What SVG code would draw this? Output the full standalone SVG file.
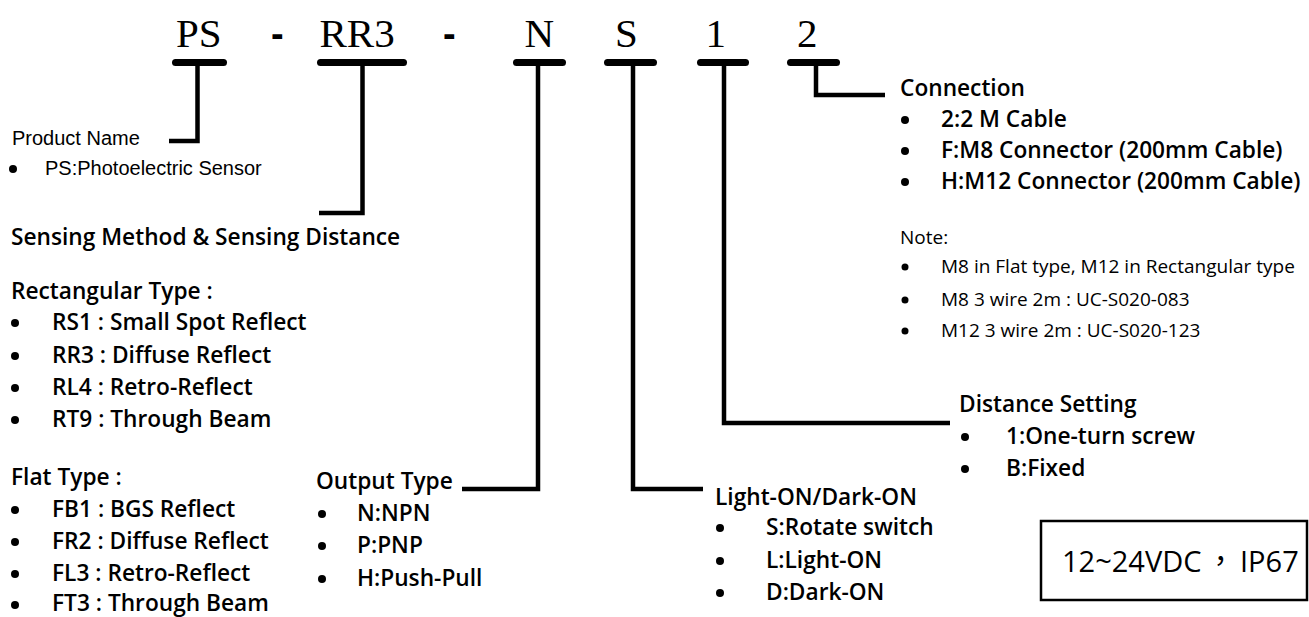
<svg xmlns="http://www.w3.org/2000/svg" width="1309" height="617" viewBox="0 0 1309 617">
<style>
.code{font-family:"Liberation Serif","Times New Roman",serif;font-size:41px;fill:#000}
.dash{font-family:"Liberation Sans",Arial,sans-serif;font-weight:bold;font-size:38px;fill:#000}
.bar{stroke:#000;stroke-width:7;stroke-linecap:round;fill:none}
.conn{stroke:#000;stroke-width:4.5;fill:none;stroke-linejoin:miter;stroke-linecap:butt}
.h{font-family:"Open Sans","Noto Sans",sans-serif;font-weight:600;font-size:22.7px;fill:#000}
.t{font-family:"Open Sans","Noto Sans",sans-serif;font-weight:600;font-size:22.7px;fill:#000}
.n{font-family:"Open Sans","Noto Sans",sans-serif;font-weight:400;font-size:19px;fill:#000}
.a{font-family:"Liberation Sans",Arial,sans-serif;font-size:20px;fill:#000}
.box{font-family:"Open Sans","Noto Sans CJK TC",sans-serif;font-size:29px;fill:#000}
</style>
<g id="code">
<text class="code" x="176" y="47">PS</text>
<text class="dash" x="271" y="47">-</text>
<text class="code" x="319.5" y="47">RR3</text>
<text class="dash" x="443" y="47">-</text>
<text class="code" x="524.5" y="47">N</text>
<text class="code" x="615" y="47">S</text>
<text class="code" x="705.5" y="47">1</text>
<text class="code" x="797" y="47">2</text>
<line class="bar" x1="175.5" y1="62.5" x2="223.5" y2="62.5"/>
<line class="bar" x1="320.5" y1="62.5" x2="403.5" y2="62.5"/>
<line class="bar" x1="516.5" y1="62.5" x2="562.5" y2="62.5"/>
<line class="bar" x1="607.5" y1="62.5" x2="653.5" y2="62.5"/>
<line class="bar" x1="700.5" y1="62.5" x2="745.5" y2="62.5"/>
<line class="bar" x1="790.5" y1="62.5" x2="836.5" y2="62.5"/>
</g>
<g id="connectors">
<path class="conn" d="M197.5 62 V141 H169"/>
<path class="conn" d="M362.5 62 V213 H319"/>
<path class="conn" d="M538 62 V489 H462"/>
<path class="conn" d="M633 62 V489 H703"/>
<path class="conn" d="M724 62 V423 H950"/>
<path class="conn" d="M816 62 V95 H885"/>
</g>
<g id="product-name">
<text class="a" x="12" y="145">Product Name</text>
<circle cx="13" cy="169" r="4"/>
<text class="a" x="45" y="175">PS:Photoelectric Sensor</text>
</g>
<g id="sensing-method">
<text class="h" x="11" y="245">Sensing Method &amp; Sensing Distance</text>
<text class="h" x="11" y="299">Rectangular Type :</text>
<circle cx="15" cy="323" r="4"/><text class="t" x="52" y="330">RS1 : Small Spot Reflect</text>
<circle cx="15" cy="356" r="4"/><text class="t" x="52" y="363">RR3 : Diffuse Reflect</text>
<circle cx="15" cy="388" r="4"/><text class="t" x="52" y="395">RL4 : Retro-Reflect</text>
<circle cx="15" cy="420" r="4"/><text class="t" x="52" y="427">RT9 : Through Beam</text>
<text class="h" x="11" y="485">Flat Type :</text>
<circle cx="15" cy="510" r="4"/><text class="t" x="52" y="517">FB1 : BGS Reflect</text>
<circle cx="15" cy="542" r="4"/><text class="t" x="52" y="549">FR2 : Diffuse Reflect</text>
<circle cx="15" cy="574" r="4"/><text class="t" x="52" y="581">FL3 : Retro-Reflect</text>
<circle cx="15" cy="605" r="4"/><text class="t" x="52" y="611">FT3 : Through Beam</text>
</g>
<g id="output-type">
<text class="h" x="316" y="489">Output Type</text>
<circle cx="322" cy="514" r="4"/><text class="t" x="357" y="521">N:NPN</text>
<circle cx="322" cy="546" r="4"/><text class="t" x="357" y="553">P:PNP</text>
<circle cx="322" cy="579" r="4"/><text class="t" x="357" y="586">H:Push-Pull</text>
</g>
<g id="light-dark">
<text class="h" x="715" y="505">Light-ON/Dark-ON</text>
<circle cx="720" cy="528" r="4"/><text class="t" x="766" y="535">S:Rotate switch</text>
<circle cx="720" cy="561" r="4"/><text class="t" x="766" y="568">L:Light-ON</text>
<circle cx="720" cy="593" r="4"/><text class="t" x="766" y="600">D:Dark-ON</text>
</g>
<g id="distance-setting">
<text class="h" x="959" y="412">Distance Setting</text>
<circle cx="965" cy="437" r="4"/><text class="t" x="1006" y="444">1:One-turn screw</text>
<circle cx="965" cy="469" r="4"/><text class="t" x="1006" y="476">B:Fixed</text>
</g>
<g id="connection">
<text class="h" x="900" y="96">Connection</text>
<circle cx="905" cy="120" r="4"/><text class="t" x="941" y="127">2:2 M Cable</text>
<circle cx="905" cy="151" r="4"/><text class="t" x="941" y="158">F:M8 Connector (200mm Cable)</text>
<circle cx="905" cy="182" r="4"/><text class="t" x="941" y="189">H:M12 Connector (200mm Cable)</text>
<text class="n" x="900" y="244">Note:</text>
<circle cx="905" cy="267" r="3.5"/><text class="n" x="941" y="273">M8 in Flat type, M12 in Rectangular type</text>
<circle cx="905" cy="300" r="3.5"/><text class="n" x="941" y="306">M8 3 wire 2m : UC-S020-083</text>
<circle cx="905" cy="331" r="3.5"/><text class="n" x="941" y="337">M12 3 wire 2m : UC-S020-123</text>
</g>
<g id="power-box">
<rect x="1041" y="521" width="266" height="79" fill="none" stroke="#000" stroke-width="2.5"/>
<text class="box" x="1062" y="572">12~24VDC<tspan x="1206">，</tspan><tspan x="1240">IP67</tspan></text>
</g>
</svg>
